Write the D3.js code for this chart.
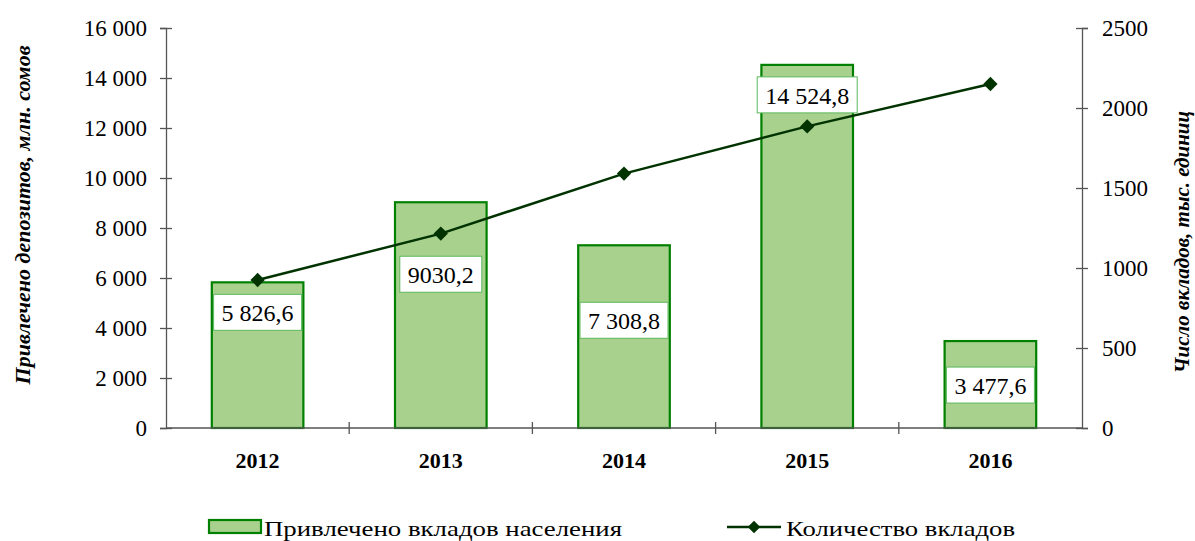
<!DOCTYPE html>
<html>
<head>
<meta charset="utf-8">
<script src="https://cdn.jsdelivr.net/npm/d3@7"></script>
<style>
  body { margin: 0; background: #fff; }
  text { font-family: "Liberation Serif", "Times New Roman", serif; }
</style>
</head>
<body>
<script>
// data
var years = ["2012", "2013", "2014", "2015", "2016"];
var deposits = [5826.6, 9030.2, 7308.8, 14524.8, 3477.6];      // млн. сомов
var depositLabels = ["5 826,6", "9030,2", "7 308,8", "14 524,8", "3 477,6"];
var counts = [925, 1215, 1590, 1885, 2150];                    // тыс. единиц
var leftTicks = [0, 2000, 4000, 6000, 8000, 10000, 12000, 14000, 16000];
var rightTicks = [0, 500, 1000, 1500, 2000, 2500];
// label box offset from the bar top, px (placed by hand in the original)
var labelDrop = [12, 54, 57, 12, 26];

var W = 1195, H = 541;
var mLeft = 166, mRight = 1082, mTop = 28, mBottom = 428;

var svg = d3.select("body").append("svg")
  .attr("width", W)
  .attr("height", H);

var x = d3.scaleBand().domain(years).range([mLeft, mRight]).paddingInner(0.5).paddingOuter(0.25);
var yL = d3.scaleLinear().domain([0, 16000]).range([mBottom, mTop]);
var yR = d3.scaleLinear().domain([0, 2500]).range([mBottom, mTop]);

var ru = d3.formatLocale({decimal: ",", thousands: " ", grouping: [3], currency: ["", ""]});
var fmtL = ru.format(",d");

// bars
svg.selectAll("rect.bar").data(years).enter().append("rect")
  .attr("class", "bar")
  .attr("x", d => x(d))
  .attr("width", x.bandwidth())
  .attr("y", (d, i) => yL(deposits[i]))
  .attr("height", (d, i) => mBottom - yL(deposits[i]))
  .attr("fill", "#a9d18e")
  .attr("stroke", "#008000")
  .attr("stroke-width", 2.2);

// axes
var axisColor = "#555";
function styleAxis(g) {
  g.selectAll("path").attr("stroke", axisColor).attr("stroke-width", 1.3);
  g.selectAll("line").attr("stroke", axisColor).attr("stroke-width", 1.3);
  g.selectAll("text").attr("font-size", 23).attr("fill", "#000")
    .attr("font-family", "Liberation Serif");
}

var gl = svg.append("g").attr("transform", "translate(" + mLeft + ",0)")
  .call(d3.axisLeft(yL).tickValues(leftTicks).tickFormat(fmtL).tickSizeOuter(0).tickSize(6).tickPadding(13));
gl.selectAll(".tick line").attr("x2", 6).attr("x1", -6);
styleAxis(gl);
gl.selectAll("text").attr("dy", "0.33em");

var gr = svg.append("g").attr("transform", "translate(" + mRight + ",0)")
  .call(d3.axisRight(yR).tickValues(rightTicks).tickFormat(d3.format("d")).tickSizeOuter(0).tickSize(6).tickPadding(14));
gr.selectAll(".tick line").attr("x1", -6).attr("x2", 6);
styleAxis(gr);
gr.selectAll("text").attr("dy", "0.33em");

// bottom axis with ticks on category boundaries
var gb = svg.append("g").attr("transform", "translate(0," + mBottom + ")");
gb.append("line").attr("x1", mLeft).attr("x2", mRight).attr("y1", 0).attr("y2", 0)
  .attr("stroke", axisColor).attr("stroke-width", 1.3);
var step = x.step();
gb.selectAll("line.sep").data(years.slice(1)).enter().append("line")
  .attr("class", "sep")
  .attr("x1", d => x(d) - step * x.paddingInner() / 2)
  .attr("x2", d => x(d) - step * x.paddingInner() / 2)
  .attr("y1", -6).attr("y2", 6)
  .attr("stroke", axisColor).attr("stroke-width", 1.3);
gb.selectAll("text").data(years).enter().append("text")
  .attr("x", d => x(d) + x.bandwidth() / 2)
  .attr("y", 40)
  .attr("text-anchor", "middle")
  .attr("font-size", 22)
  .attr("font-weight", "bold")
  .text(d => d);

// line
var cx = d => x(d) + x.bandwidth() / 2;
var line = d3.line().x((d, i) => cx(years[i])).y(d => yR(d));
svg.append("path").datum(counts)
  .attr("d", line)
  .attr("fill", "none")
  .attr("stroke", "#003300")
  .attr("stroke-width", 2.5);
svg.selectAll("path.mk").data(counts).enter().append("path")
  .attr("class", "mk")
  .attr("d", d3.symbol().type(d3.symbolDiamond2).size(130))
  .attr("transform", (d, i) => "translate(" + cx(years[i]) + "," + yR(d) + ")")
  .attr("fill", "#003300");

// value labels
var lab = svg.selectAll("g.lab").data(depositLabels).enter().append("g").attr("class", "lab");
lab.each(function (d, i) {
  var g = d3.select(this);
  var t = g.append("text")
    .attr("font-size", 24)
    .attr("text-anchor", "middle")
    .attr("x", cx(years[i]))
    .text(d);
  var bw = t.node().getBBox().width + 16;
  var boxTop = yL(deposits[i]) + labelDrop[i];
  t.attr("y", boxTop + 27);
  g.insert("rect", "text")
    .attr("x", cx(years[i]) - bw / 2)
    .attr("y", boxTop)
    .attr("width", bw)
    .attr("height", 36)
    .attr("fill", "#fff")
    .attr("stroke", "#5cb85c")
    .attr("stroke-width", 1);
});

// axis titles
svg.append("text")
  .attr("transform", "translate(30,215) rotate(-90)")
  .attr("text-anchor", "middle")
  .attr("font-size", 22)
  .attr("font-weight", "bold")
  .attr("font-style", "italic")
  .text("Привлечено депозитов, млн. сомов");
svg.append("text")
  .attr("transform", "translate(1189,242) rotate(-90)")
  .attr("text-anchor", "middle")
  .attr("font-size", 21)
  .attr("font-weight", "bold")
  .attr("font-style", "italic")
  .text("Число вкладов, тыс. единиц");

// legend
var lg = svg.append("g");
lg.append("rect").attr("x", 209).attr("y", 520).attr("width", 52).attr("height", 13)
  .attr("fill", "#a9d18e").attr("stroke", "#008000").attr("stroke-width", 2.2);
lg.append("text").attr("x", 264).attr("y", 536).attr("font-size", 22)
  .attr("textLength", 358).attr("lengthAdjust", "spacingAndGlyphs")
  .text("Привлечено вкладов населения");
lg.append("line").attr("x1", 727).attr("x2", 781).attr("y1", 527).attr("y2", 527)
  .attr("stroke", "#003300").attr("stroke-width", 2.5);
lg.append("path").attr("d", d3.symbol().type(d3.symbolDiamond2).size(100))
  .attr("transform", "translate(754,527)").attr("fill", "#003300");
lg.append("text").attr("x", 786).attr("y", 536).attr("font-size", 22)
  .attr("textLength", 229).attr("lengthAdjust", "spacingAndGlyphs")
  .text("Количество вкладов");
</script>
</body>
</html>
